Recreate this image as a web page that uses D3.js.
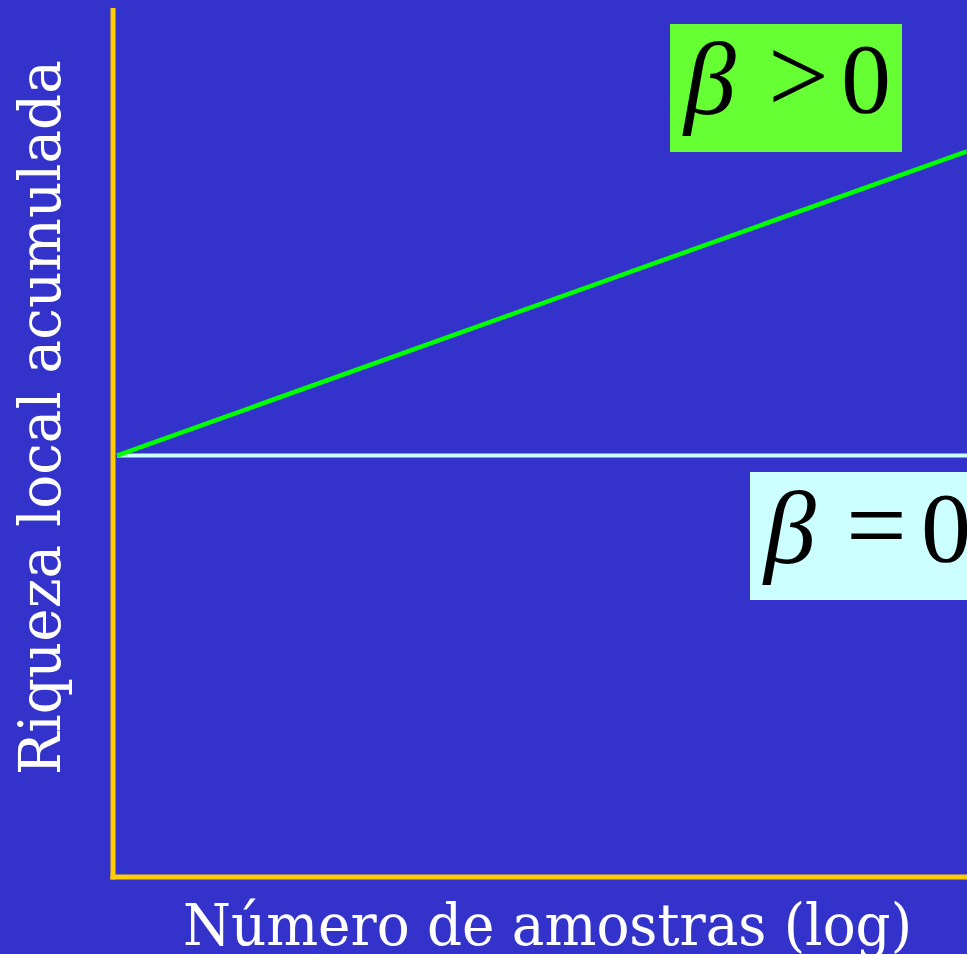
<!DOCTYPE html>
<html><head><meta charset="utf-8">
<script src="https://cdn.jsdelivr.net/npm/d3@7"></script>
<style>html,body{margin:0;padding:0;background:#3333CC;overflow:hidden}</style>
</head><body>
<script>
// Data
const samples = [1, 1000];            // number of samples (log scale)
const betaPositive = [48.5, 83.5];    // accumulated local richness, beta > 0
const betaZero = [48.5, 48.5];        // accumulated local richness, beta = 0
const xLabel = "Número de amostras (log)";
const yLabel = "Riqueza local acumulada";

const W = 967, H = 954;
const svg = d3.select("body").append("svg").attr("width", W).attr("height", H);
svg.append("rect").attr("width", W).attr("height", H).attr("fill", "#3333CC");

const x = d3.scaleLog().domain([1, 1000]).range([117, 967]);
const y = d3.scaleLinear().domain([0, 100]).range([877, 8]);

// Axes (no ticks)
const xAxis = svg.append("g").attr("transform", "translate(0,877)")
  .call(d3.axisBottom(x).tickValues([]).tickSizeOuter(0));
xAxis.select(".domain").attr("d", "M110.5,0H967");
const yAxis = svg.append("g").attr("transform", "translate(113,0)")
  .call(d3.axisLeft(y).tickValues([]).tickSizeOuter(0));
yAxis.select(".domain").attr("d", "M0,879.5V8");
svg.selectAll(".domain").attr("stroke", "#FFCC00").attr("stroke-width", 5).attr("fill", "none");

const line = d3.line().x((d, i) => x(samples[i])).y(d => y(d));
svg.append("path").datum(betaZero).attr("d", line)
  .attr("stroke", "#CCFFFF").attr("stroke-width", 4).attr("fill", "none");
svg.append("path").datum(betaPositive).attr("d", line)
  .attr("stroke", "#00FF00").attr("stroke-width", 4.5).attr("fill", "none");

// Labels boxes
svg.append("rect").attr("x", 670).attr("y", 24).attr("width", 232).attr("height", 128).attr("fill", "#66FF33");
svg.append("rect").attr("x", 750).attr("y", 472).attr("width", 230).attr("height", 128).attr("fill", "#CCFFFF");

function eq(xb, base, op, xop, x0n) {
  const g = svg.append("g").attr("font-family", "Liberation Serif, Times New Roman, serif")
    .attr("font-size", 100).attr("fill", "#000");
  g.append("text").attr("x", xb).attr("y", base + 2).attr("font-style", "italic")
    .attr("font-size", 104).text("β");
  g.append("text").attr("x", xop).attr("y", base).attr("font-size", 108).text(op);
  g.append("text").attr("x", x0n).attr("y", base).text("0");
}
eq(684, 112, ">", 768, 841);
eq(764, 561, "=", 846, 921);

// Axis titles
svg.append("text").attr("x", 183).attr("y", 945)
  .attr("font-family", "DejaVu Serif, serif").attr("font-size", 57).attr("fill", "#fff")
  .attr("textLength", 729).attr("lengthAdjust", "spacingAndGlyphs").text(xLabel);
svg.append("text").attr("transform", "translate(60,775) rotate(-90)")
  .attr("font-family", "DejaVu Serif, serif").attr("font-size", 57).attr("fill", "#fff")
  .attr("textLength", 715).attr("lengthAdjust", "spacingAndGlyphs").text(yLabel);
</script>
</body></html>
